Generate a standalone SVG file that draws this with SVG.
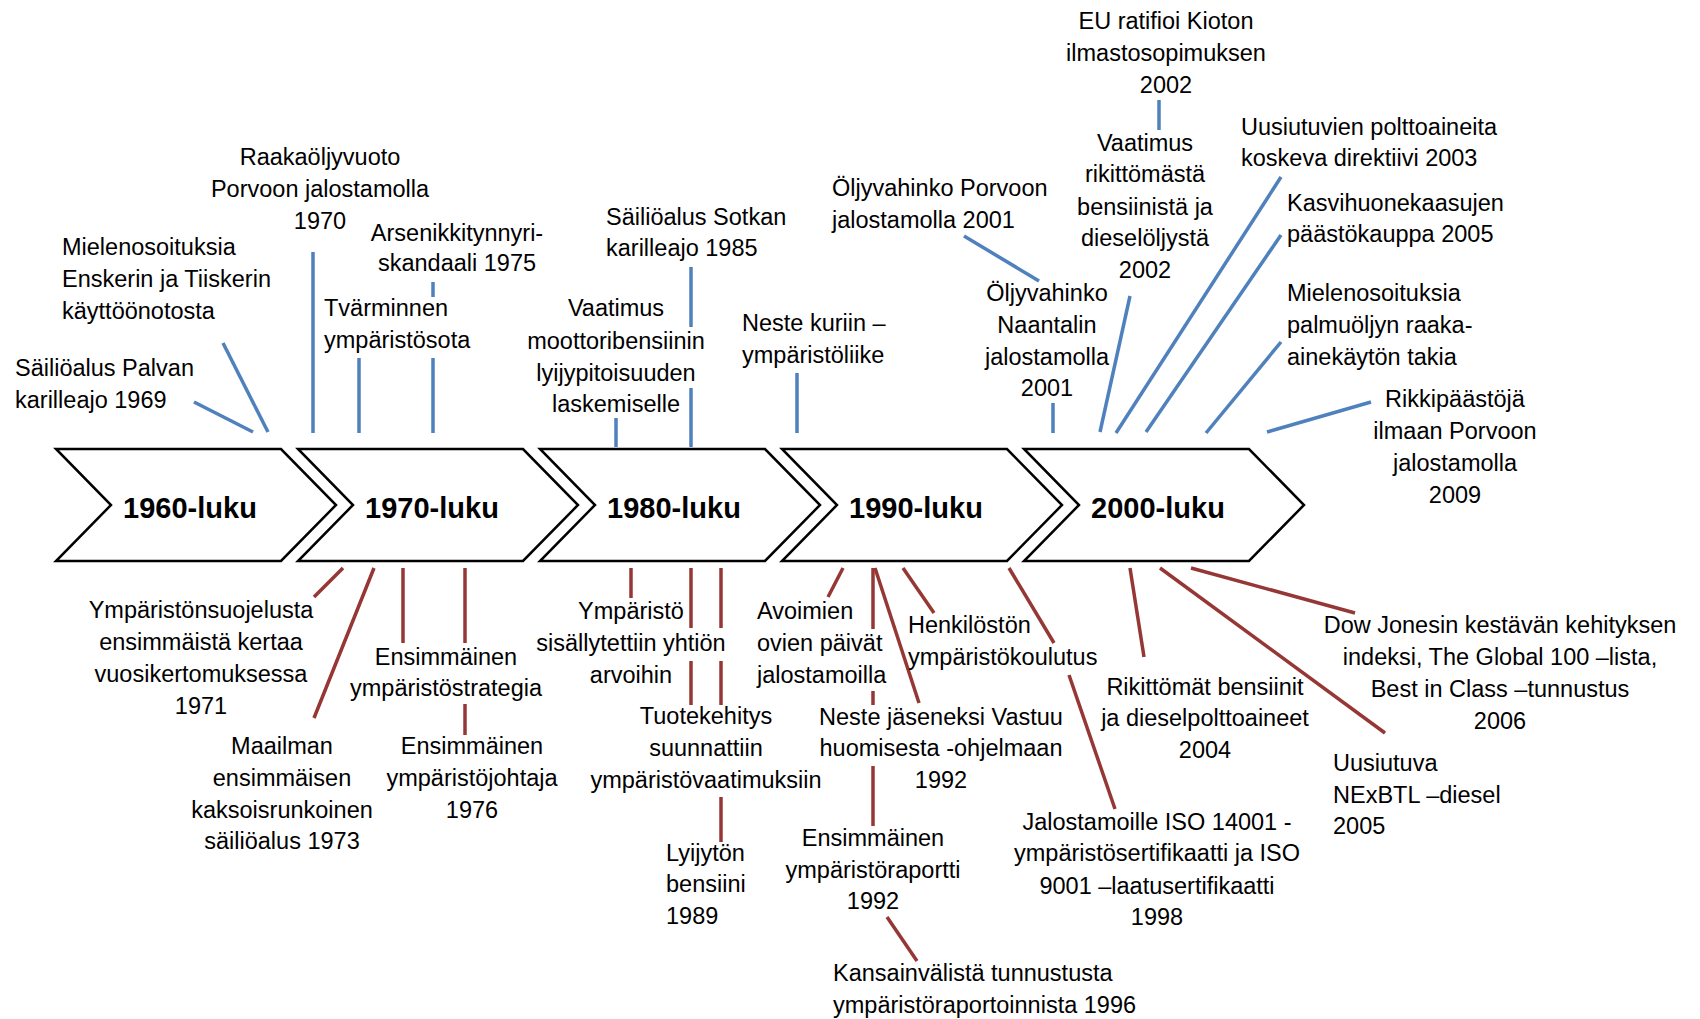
<svg xmlns="http://www.w3.org/2000/svg" width="1700" height="1019" viewBox="0 0 1700 1019">
<style>
text{font-family:"Liberation Sans",Arial,sans-serif;font-size:23.5px;fill:#000}
.m{text-anchor:middle}
.d{font-weight:bold;font-size:29px;text-anchor:middle}
.chev{fill:#fff;stroke:#000;stroke-width:2.5;stroke-linejoin:miter}
.b{stroke:#4F81BD;stroke-width:3.5;fill:none}
.r{stroke:#953735;stroke-width:3.5;fill:none}
</style>
<rect width="1700" height="1019" fill="#fff"/>
<g id="decades">
<g id="d1960"><path class="chev" d="M56,449 L281,449 L336,505 L281,561 L56,561 L111,505 Z"/><text class="d" x="190" y="518">1960-luku</text></g>
<g id="d1970"><path class="chev" d="M298,449 L523,449 L578,505 L523,561 L298,561 L353,505 Z"/><text class="d" x="432" y="518">1970-luku</text></g>
<g id="d1980"><path class="chev" d="M540,449 L765,449 L820,505 L765,561 L540,561 L595,505 Z"/><text class="d" x="674" y="518">1980-luku</text></g>
<g id="d1990"><path class="chev" d="M782,449 L1007,449 L1062,505 L1007,561 L782,561 L837,505 Z"/><text class="d" x="916" y="518">1990-luku</text></g>
<g id="d2000"><path class="chev" d="M1024,449 L1249,449 L1304,505 L1249,561 L1024,561 L1079,505 Z"/><text class="d" x="1158" y="518">2000-luku</text></g>
</g>
<g id="connectors">
<path class="b" d="M194,402 L253,432"/>
<path class="b" d="M223,343 L268,432"/>
<path class="b" d="M313,252 L313,433"/>
<path class="b" d="M433,282 L433,297"/>
<path class="b" d="M433,358 L433,433"/>
<path class="b" d="M359,358 L359,433"/>
<path class="b" d="M691,267 L691,327"/>
<path class="b" d="M691,388 L691,447"/>
<path class="b" d="M616,418 L616,447"/>
<path class="b" d="M797,373 L797,433"/>
<path class="b" d="M964,236 L1039,281"/>
<path class="b" d="M1053,403 L1053,433"/>
<path class="b" d="M1159,100 L1159,130"/>
<path class="b" d="M1130,296 L1100,432"/>
<path class="b" d="M1281,177 L1116,433"/>
<path class="b" d="M1281,235 L1146,432"/>
<path class="b" d="M1281,342 L1206,433"/>
<path class="b" d="M1371,402 L1267,432"/>
<path class="r" d="M343,568 L314,597"/>
<path class="r" d="M374,568 L314,718"/>
<path class="r" d="M403,568 L403,643"/>
<path class="r" d="M465,568 L465,643"/>
<path class="r" d="M465,704 L465,735"/>
<path class="r" d="M631,568 L631,598"/>
<path class="r" d="M691,568 L691,628"/>
<path class="r" d="M691,661 L691,705"/>
<path class="r" d="M721,568 L721,628"/>
<path class="r" d="M721,661 L721,705"/>
<path class="r" d="M721,797 L721,842"/>
<path class="r" d="M843,568 L828,597"/>
<path class="r" d="M903,568 L934,613"/>
<path class="r" d="M873,568 L873,629"/>
<path class="r" d="M873,691 L873,705"/>
<path class="r" d="M873,766 L873,826"/>
<path class="r" d="M875,568 L919,703"/>
<path class="r" d="M887,917 L917,961"/>
<path class="r" d="M1009,568 L1054,643"/>
<path class="r" d="M1069,675 L1115,809"/>
<path class="r" d="M1130,568 L1144,657"/>
<path class="r" d="M1160,568 L1385,733"/>
<path class="r" d="M1191,568 L1355,613"/>
</g>
<g id="e1969"><text x="15" y="376">Säiliöalus Palvan</text><text x="15" y="408">karilleajo 1969</text></g>
<g id="e-enskeri"><text x="62" y="255">Mielenosoituksia</text><text x="62" y="287">Enskerin ja Tiiskerin</text><text x="62" y="319">käyttöönotosta</text></g>
<g id="e1970"><text class="m" x="320" y="165">Raakaöljyvuoto</text><text class="m" x="320" y="197">Porvoon jalostamolla</text><text class="m" x="320" y="229">1970</text></g>
<g id="e1975"><text class="m" x="457" y="241">Arsenikkitynnyri-</text><text class="m" x="457" y="271">skandaali 1975</text></g>
<g id="e-tvarminne"><text x="324" y="316">Tvärminnen</text><text x="324" y="348">ympäristösota</text></g>
<g id="e1985"><text x="606" y="225">Säiliöalus Sotkan</text><text x="606" y="256">karilleajo 1985</text></g>
<g id="e-lyijy"><text class="m" x="616" y="316">Vaatimus</text><text class="m" x="616" y="349">moottoribensiinin</text><text class="m" x="616" y="381">lyijypitoisuuden</text><text class="m" x="616" y="412">laskemiselle</text></g>
<g id="e-neste-kuriin"><text x="742" y="331">Neste kuriin –</text><text x="742" y="363">ympäristöliike</text></g>
<g id="e2001p"><text x="832" y="196">Öljyvahinko Porvoon</text><text x="832" y="228">jalostamolla 2001</text></g>
<g id="e2001n"><text class="m" x="1047" y="301">Öljyvahinko</text><text class="m" x="1047" y="333">Naantalin</text><text class="m" x="1047" y="365">jalostamolla</text><text class="m" x="1047" y="396">2001</text></g>
<g id="e2002k"><text class="m" x="1166" y="29">EU ratifioi Kioton</text><text class="m" x="1166" y="61">ilmastosopimuksen</text><text class="m" x="1166" y="93">2002</text></g>
<g id="e2002r"><text class="m" x="1145" y="151">Vaatimus</text><text class="m" x="1145" y="182">rikittömästä</text><text class="m" x="1145" y="215">bensiinistä ja</text><text class="m" x="1145" y="246">dieselöljystä</text><text class="m" x="1145" y="278">2002</text></g>
<g id="e2003"><text x="1241" y="135">Uusiutuvien polttoaineita</text><text x="1241" y="166">koskeva direktiivi 2003</text></g>
<g id="e2005k"><text x="1287" y="211">Kasvihuonekaasujen</text><text x="1287" y="242">päästökauppa 2005</text></g>
<g id="e-palmu"><text x="1287" y="301">Mielenosoituksia</text><text x="1287" y="333">palmuöljyn raaka-</text><text x="1287" y="365">ainekäytön takia</text></g>
<g id="e2009"><text class="m" x="1455" y="407">Rikkipäästöjä</text><text class="m" x="1455" y="439">ilmaan Porvoon</text><text class="m" x="1455" y="471">jalostamolla</text><text class="m" x="1455" y="503">2009</text></g>
<g id="e1971"><text class="m" x="201" y="618">Ympäristönsuojelusta</text><text class="m" x="201" y="650">ensimmäistä kertaa</text><text class="m" x="201" y="682">vuosikertomuksessa</text><text class="m" x="201" y="714">1971</text></g>
<g id="e1973"><text class="m" x="282" y="754">Maailman</text><text class="m" x="282" y="786">ensimmäisen</text><text class="m" x="282" y="818">kaksoisrunkoinen</text><text class="m" x="282" y="849">säiliöalus 1973</text></g>
<g id="e-strategia"><text class="m" x="446" y="665">Ensimmäinen</text><text class="m" x="446" y="696">ympäristöstrategia</text></g>
<g id="e1976"><text class="m" x="472" y="754">Ensimmäinen</text><text class="m" x="472" y="786">ympäristöjohtaja</text><text class="m" x="472" y="818">1976</text></g>
<g id="e-arvot"><text class="m" x="631" y="619">Ympäristö</text><text class="m" x="631" y="651">sisällytettiin yhtiön</text><text class="m" x="631" y="683">arvoihin</text></g>
<g id="e-tuotekehitys"><text class="m" x="706" y="724">Tuotekehitys</text><text class="m" x="706" y="756">suunnattiin</text><text class="m" x="706" y="788">ympäristövaatimuksiin</text></g>
<g id="e1989"><text x="666" y="861">Lyijytön</text><text x="666" y="892">bensiini</text><text x="666" y="924">1989</text></g>
<g id="e-avoimet"><text x="757" y="619">Avoimien</text><text x="757" y="651">ovien päivät</text><text x="757" y="683">jalostamoilla</text></g>
<g id="e-koulutus"><text x="908" y="633">Henkilöstön</text><text x="908" y="665">ympäristökoulutus</text></g>
<g id="e1992v"><text class="m" x="941" y="725">Neste jäseneksi Vastuu</text><text class="m" x="941" y="756">huomisesta -ohjelmaan</text><text class="m" x="941" y="788">1992</text></g>
<g id="e1992r"><text class="m" x="873" y="846">Ensimmäinen</text><text class="m" x="873" y="878">ympäristöraportti</text><text class="m" x="873" y="909">1992</text></g>
<g id="e1996"><text x="833" y="981">Kansainvälistä tunnustusta</text><text x="833" y="1013">ympäristöraportoinnista 1996</text></g>
<g id="e1998"><text class="m" x="1157" y="830">Jalostamoille ISO 14001 -</text><text class="m" x="1157" y="861">ympäristösertifikaatti ja ISO</text><text class="m" x="1157" y="894">9001 –laatusertifikaatti</text><text class="m" x="1157" y="925">1998</text></g>
<g id="e2004"><text class="m" x="1205" y="695">Rikittömät bensiinit</text><text class="m" x="1205" y="726">ja dieselpolttoaineet</text><text class="m" x="1205" y="758">2004</text></g>
<g id="e2005n"><text x="1333" y="771">Uusiutuva</text><text x="1333" y="803">NExBTL –diesel</text><text x="1333" y="834">2005</text></g>
<g id="e2006"><text class="m" x="1500" y="633">Dow Jonesin kestävän kehityksen</text><text class="m" x="1500" y="665">indeksi, The Global 100 –lista,</text><text class="m" x="1500" y="697">Best in Class –tunnustus</text><text class="m" x="1500" y="729">2006</text></g>
</svg>
